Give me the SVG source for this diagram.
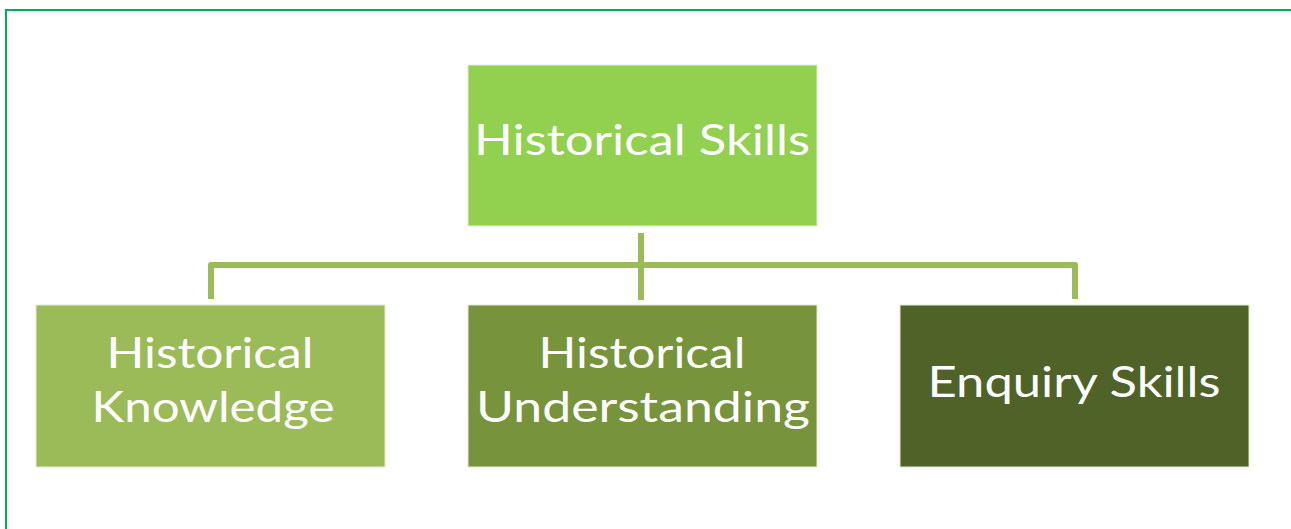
<svg xmlns="http://www.w3.org/2000/svg" width="1291" height="529" viewBox="0 0 1291 529">
  <style>
    .frame { fill: none; stroke: #00B050; stroke-width: 2; }
    .box { stroke: #E3EAD6; stroke-width: 1; }
    .label { font-family: Lato, "Open Sans", sans-serif; font-size: 42px; fill: #FFFFFF; text-anchor: middle; }
    .link { fill: none; stroke: #9BBB59; stroke-width: 6; stroke-linejoin: round; stroke-linecap: butt; }
  </style>
  <rect width="1291" height="529" fill="#FFFFFF"/>
  <!-- outer frame: top and left edges -->
  <path class="frame" d="M6 529 V10 H1291"/>

  <!-- connectors -->
  <g id="connectors">
    <path class="link" d="M641 233 V300"/>
    <path class="link" d="M211 299 V265 H1075 V299"/>
  </g>

  <g id="node-historical-skills">
    <rect class="box" x="468" y="65" width="349" height="161" fill="#92D050"/>
    <text class="label" x="642" y="155" textLength="336" lengthAdjust="spacingAndGlyphs">Historical Skills</text>
  </g>

  <g id="node-historical-knowledge">
    <rect class="box" x="36" y="305" width="349" height="162" fill="#9BBB59"/>
    <text class="label" x="210" y="368" textLength="207" lengthAdjust="spacingAndGlyphs">Historical</text>
    <text class="label" x="213" y="422" textLength="243" lengthAdjust="spacingAndGlyphs">Knowledge</text>
  </g>

  <g id="node-historical-understanding">
    <rect class="box" x="468" y="305" width="349" height="162" fill="#77933C"/>
    <text class="label" x="642" y="368" textLength="207" lengthAdjust="spacingAndGlyphs">Historical</text>
    <text class="label" x="643" y="422" textLength="334" lengthAdjust="spacingAndGlyphs">Understanding</text>
  </g>

  <g id="node-enquiry-skills">
    <rect class="box" x="900" y="305" width="349" height="162" fill="#4F6228"/>
    <text class="label" x="1074" y="397" textLength="293" lengthAdjust="spacingAndGlyphs">Enquiry Skills</text>
  </g>
</svg>
